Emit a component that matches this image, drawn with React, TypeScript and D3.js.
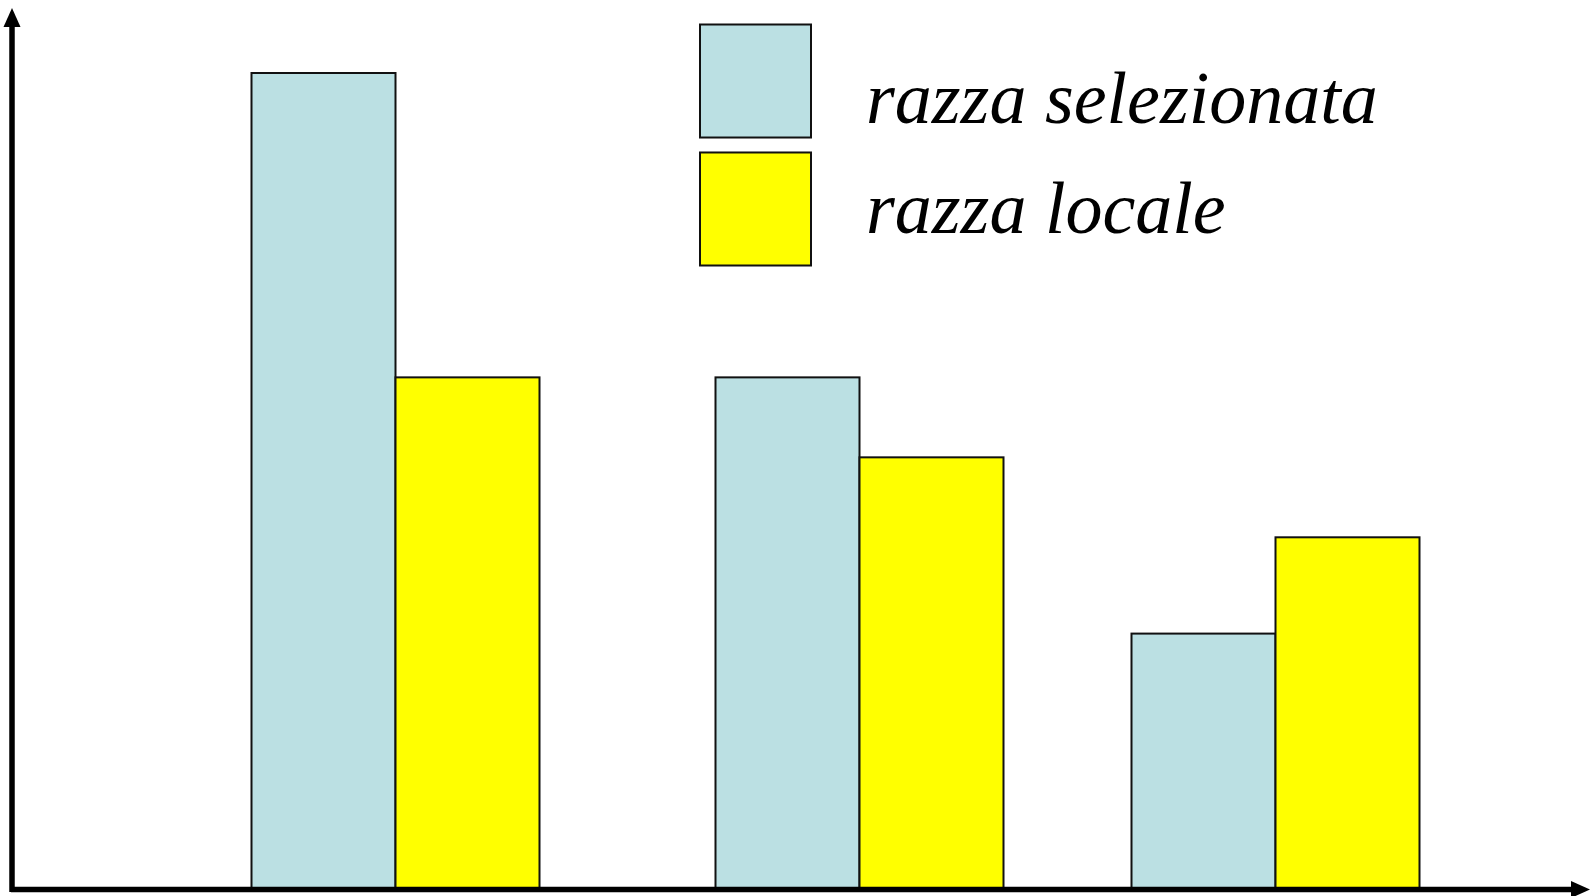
import React from "react";
import * as d3 from "d3";

const categories = ["A", "B", "C"];
const seriesNames = ["razza selezionata", "razza locale"];
const selezionataValues = [100, 62.7, 31.3];
const localeValues = [62.7, 52.9, 43.1];
const seriesColors = ["#BBE0E3", "#FFFF00"];

const W = 1590;
const H = 896;
const baseY = 889;
const topY = 73;
const axisX = 12;

export default function App() {
  const y = d3.scaleLinear().domain([0, 100]).range([baseY, topY]);
  // group centres (boundary between the two bars of each group)
  const xGroup = d3.scaleOrdinal<string, number>().domain(categories).range([395.5, 859.5, 1275.5]);
  const xSub = d3.scaleBand().domain(seriesNames).range([-144, 144]).padding(0);
  const series = [selezionataValues, localeValues];

  const bars: { key: string; x: number; y: number; w: number; h: number; fill: string }[] = [];
  categories.forEach((c, ci) => {
    seriesNames.forEach((s, si) => {
      const v = series[si][ci];
      bars.push({
        key: c + s,
        x: xGroup(c) + (xSub(s) as number),
        y: y(v),
        w: xSub.bandwidth(),
        h: y(0) - y(v),
        fill: seriesColors[si],
      });
    });
  });

  const legendY = d3.scaleBand().domain(seriesNames).range([24.5, 265.5]).paddingInner(0.117);
  const legendText = d3.scalePoint().domain(seriesNames).range([123, 233]);

  return (
    <svg width={W} height={H} style={{ position: "absolute", left: 0, top: 0, background: "#fff" }}>
      {bars.map((b) => (
        <rect key={b.key} x={b.x} y={b.y} width={b.w} height={b.h} fill={b.fill} stroke="#111" strokeWidth={2} />
      ))}
      {/* axes */}
      <line x1={axisX} y1={baseY + 3} x2={axisX} y2={24} stroke="#000" strokeWidth={5.5} />
      <path d={`M${axisX},8 L${axisX - 8.5},27 L${axisX + 8.5},27 Z`} fill="#000" />
      <line x1={axisX - 1} y1={baseY + 0.5} x2={1575} y2={baseY + 0.5} stroke="#000" strokeWidth={5.5} />
      <path d={`M1590,${baseY + 0.5} L1571,${baseY - 8} L1571,${baseY + 9} Z`} fill="#000" />
      {/* legend */}
      {seriesNames.map((s, i) => (
        <g key={s}>
          <rect x={700} y={legendY(s)} width={111} height={legendY.bandwidth()} fill={seriesColors[i]} stroke="#111" strokeWidth={2} />
          <text
            x={866}
            y={legendText(s)}
            fontFamily="'Liberation Serif', 'Times New Roman', serif"
            fontStyle="italic"
            fontSize={74}
            fill="#000"
          >
            {s}
          </text>
        </g>
      ))}
    </svg>
  );
}
